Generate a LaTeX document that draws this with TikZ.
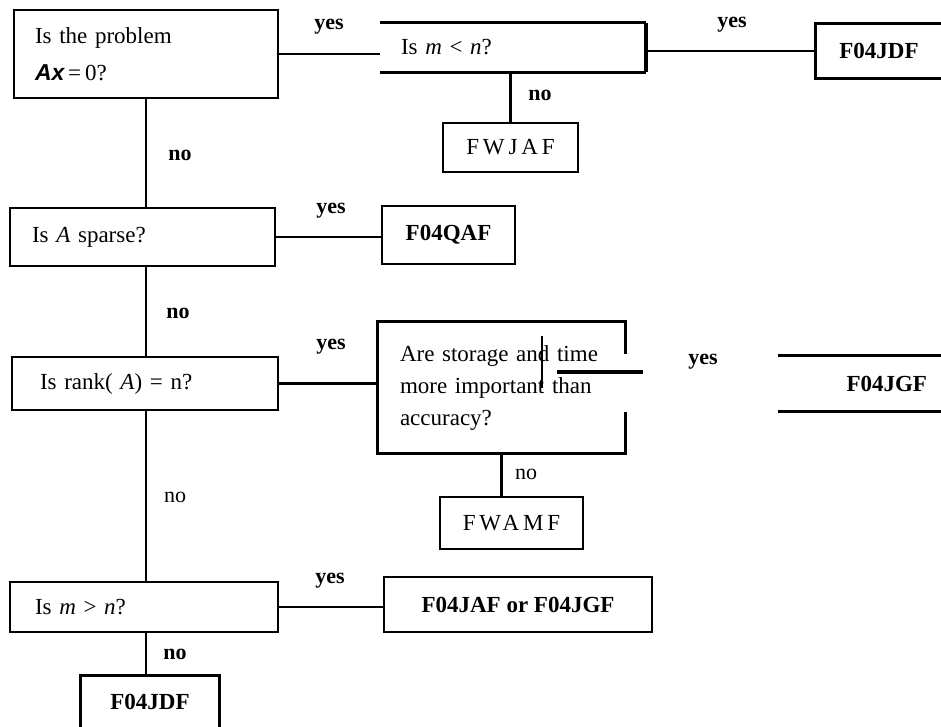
\documentclass[tikz,border=0pt]{standalone}
\usepackage{fontspec}
\setmainfont{Liberation Serif}
\newfontfamily\spacedfont[LetterSpace=17]{Liberation Serif}
\newfontfamily\axfont{Liberation Sans}
\begin{document}
\begin{tikzpicture}[x=1pt,y=-1pt,
  box/.style={draw, line width=2.6pt, inner sep=0pt, font=\fontsize{23}{28}\selectfont},
  openbox/.style={box, draw=none},
  conn/.style={line width=2.6pt},
  heavy/.style={line width=4pt},
  lbl/.style={font=\bfseries\fontsize{22}{24}\selectfont, inner sep=0pt},
  lblr/.style={font=\fontsize{22}{24}\selectfont, inner sep=0pt},
  fname/.style={font=\bfseries\fontsize{23}{28}\selectfont}
]
\useasboundingbox (0,0) rectangle (941,726);

% row 1
\node[box, minimum width=264pt, minimum height=88pt, text width=222pt, align=left] (q1) at (146,54)
  {Is the problem\\[9pt]{\axfont\bfseries\itshape Ax}\,=\,0?};
\node[openbox, minimum width=264pt, minimum height=47pt, text width=224pt, align=left] (q2) at (513,47.5)
  {Is \textit{m} < \textit{n}?};
\draw[conn] (q2.north west) -- (q2.north east);
\draw[conn] (q2.south west) -- (q2.south east);
\draw[heavy] (q2.north east) -- (q2.south east);
\node[openbox, minimum width=124pt, minimum height=52pt, fname] (jdf1) at (879,51) {F04JDF};
\draw[conn] (jdf1.north east) -- (jdf1.north west) -- (jdf1.south west) -- (jdf1.south east);
\node[box, minimum width=135pt, minimum height=49pt] (fwjaf) at (510.5,147.5) {\spacedfont FWJAF};

\draw[conn] (q1.east) -- (q1.east -| q2.west);
\draw[conn] (q2.east |- jdf1.west) -- (jdf1.west);
\draw[conn] (fwjaf.north |- q2.south) -- (fwjaf.north);
\node[lbl] (y1) at (329,27) {yes};
\node[lbl] (y2) at (732,25) {yes};
\node[lbl] (n1) at (540,95) {no};

% row 2
\node[box, minimum width=265pt, minimum height=58pt, text width=221pt, align=left] (sparse) at (142.5,237)
  {Is \textit{A} sparse?};
\node[box, minimum width=133pt, minimum height=58pt, fname] (qaf) at (448.5,235) {F04QAF};
\draw[conn] (q1.south) -- (q1.south |- sparse.north);
\draw[conn] (sparse.east) -- (sparse.east -| qaf.west);
\node[lbl] (n2) at (180,155) {no};
\node[lbl] (y3) at (331,211) {yes};

% row 3
\node[box, minimum width=266pt, minimum height=53pt, text width=210pt, align=left] (rank) at (145,383.5)
  {Is rank( \textit{A}) = n?};
\node[openbox, minimum width=245pt, minimum height=129pt, text width=203pt, align=left] (storage) at (501.5,387.5)
  {Are storage and time\\[4pt]more important than\\[4pt]accuracy?};
\draw[conn] ([yshift=-32pt]storage.north east) -- (storage.north east) -- (storage.north west)
  -- (storage.south west) -- (storage.south east) -- ([yshift=41pt]storage.south east);
\coordinate (tv1) at (542,336);
\coordinate (tv2) at (542,388);
\draw[line width=1.4pt] (tv1) -- (tv2);
\coordinate (sy1) at (557,372);
\coordinate (sy2) at (643,372);
\draw[heavy] (sy1) -- (sy2);
\node[openbox, minimum width=162pt, minimum height=53pt, text width=134pt, align=right, fname] (jgf) at (860,383.5) {F04JGF};
\draw[conn] (jgf.north west) -- (jgf.north east);
\draw[conn] (jgf.south west) -- (jgf.south east);
\node[box, minimum width=143pt, minimum height=52pt] (fwamf) at (511.5,523) {\spacedfont FWAMF};

\draw[conn] (q1.south |- sparse.south) -- (q1.south |- rank.north);
\draw[conn] (rank.east) -- (rank.east -| storage.west);
\draw[conn] (storage.south) -- (storage.south |- fwamf.north);
\node[lbl] (n3) at (178,313) {no};
\node[lbl] (y4) at (331,347) {yes};
\node[lbl] (y5) at (703,362) {yes};
\node[lblr] (n4) at (526,474) {no};

% row 4
\node[box, minimum width=268pt, minimum height=50pt, text width=218pt, align=left] (mgn) at (144,607)
  {Is \textit{m} > \textit{n}?};
\node[box, minimum width=268pt, minimum height=55pt, fname] (jaf) at (518,604.5) {F04JAF or F04JGF};
\node[openbox, minimum width=136pt, minimum height=49pt, fname] (jdf2) at (150,701.5) {F04JDF};
\draw[conn] (jdf2.south west) -- (jdf2.north west) -- (jdf2.north east) -- (jdf2.south east);

\draw[conn] (q1.south |- rank.south) -- (q1.south |- mgn.north);
\draw[conn] (mgn.east) -- (mgn.east -| jaf.west);
\draw[conn] (q1.south |- mgn.south) -- (q1.south |- jdf2.north);
\node[lblr] (n5) at (175,497) {no};
\node[lbl] (y6) at (330,581) {yes};
\node[lbl] (n6) at (175,654) {no};
\end{tikzpicture}
\end{document}
